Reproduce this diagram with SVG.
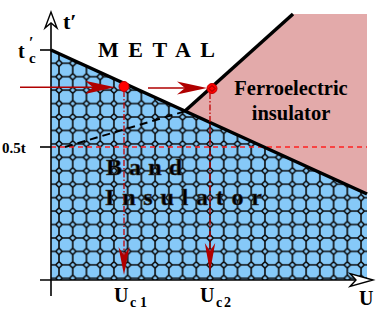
<svg xmlns="http://www.w3.org/2000/svg" width="382" height="309" viewBox="0 0 382 309">
<style>
.lbl{font-family:"Liberation Serif","Times New Roman",serif;font-weight:bold;fill:#000}
.bnd{stroke:#000;stroke-width:3.5;fill:none;stroke-linecap:butt}
.ax{stroke:#000;stroke-width:1.6;fill:none}
.axh{fill:#fff;stroke:#000;stroke-width:1.4;stroke-linejoin:miter}
.rarr{stroke:#B00000;stroke-width:1.5;fill:none}
.rhead{fill:#B00000;stroke:none}
.vdash{stroke:#C00000;stroke-width:1.3;fill:none;stroke-dasharray:6 2 1.5 2}
.dot{fill:#FF0000;stroke:#C00000;stroke-width:1}
</style>
<defs>
<pattern id="oct" patternUnits="userSpaceOnUse" x="52.135" y="2.78" width="13.73" height="13.44">
<rect width="13.73" height="13.44" fill="#86C9F8"/>
<path d="M0 6.72H3.565M10.165 6.72H13.73M6.865 0V3.42M6.865 10.02V13.44M3.565 6.72L6.865 3.42L10.165 6.72L6.865 10.02Z" stroke="#0a0a0a" stroke-width="1.6" fill="none"/>
</pattern>
</defs>
<rect width="382" height="309" fill="#fff"/>
<g id="regions">
<polygon id="ferro-region" points="293,14 367,14 367,194 185,111" fill="#E3AAAA"/>
<polygon id="band-region" points="51,50 367,194 367,280 51,280" fill="url(#oct)"/>
</g>
<g id="connectors">
<line x1="51" y1="147" x2="367" y2="147" stroke="#FF2020" stroke-width="1.5" stroke-dasharray="5 4"/>
<line x1="65" y1="147" x2="186" y2="111" stroke="#000" stroke-width="2" stroke-dasharray="8 5"/>
<line class="bnd" x1="51" y1="50" x2="367" y2="194"/>
<line class="bnd" x1="185" y1="111" x2="293" y2="14"/>
<line class="ax" x1="40" y1="50" x2="51" y2="50"/>
<line class="ax" x1="40" y1="147" x2="51" y2="147"/>
<line class="ax" x1="51" y1="296" x2="51" y2="22"/>
<line class="ax" x1="40" y1="280" x2="362" y2="280"/>
<path class="axh" d="M51,12 L57,28 L51,23 L45,28 Z"/>
<path class="axh" d="M373,280 L350,273.5 L356,280 L350,286.5 Z"/>
<line class="rarr" x1="20" y1="87.3" x2="95" y2="87.3"/>
<path class="rhead" d="M115,87.3 L85,80.7 L93,87.3 L85,93.9 Z"/>
<line class="rarr" x1="148" y1="88" x2="188" y2="88"/>
<path class="rhead" d="M207,88 L177,81.4 L185,88 L177,94.6 Z"/>
<line class="vdash" x1="124" y1="91" x2="124" y2="256"/>
<path class="rhead" d="M124,275 L118.5,247 L124,255 L129.5,247 Z"/>
<line class="vdash" x1="210" y1="93" x2="210" y2="252"/>
<path class="rhead" d="M210,272 L204.8,243 L210,251 L215.2,243 Z"/>
</g>
<g id="points">
<circle class="dot" cx="124" cy="86.5" r="5"/>
<circle class="dot" cx="212" cy="88.5" r="5"/>
<path d="M209,88.5 L212,85.5 L215,88.5 L212,91.5 Z" fill="none" stroke="#8B0000" stroke-width="1"/>
</g>
<g id="labels">
<text class="lbl" x="63" y="29" font-size="22">t′</text>
<text class="lbl" x="18" y="58" font-size="20">t</text>
<text class="lbl" x="29" y="48" font-size="16">′</text>
<text class="lbl" x="29" y="63" font-size="15">c</text>
<text class="lbl" x="2" y="153" font-size="15">0.5t</text>
<text class="lbl" x="98" y="57" font-size="22" textLength="117" lengthAdjust="spacing">METAL</text>
<text class="lbl" x="291" y="95" font-size="20.5" text-anchor="middle">Ferroelectric</text>
<text class="lbl" x="291" y="120" font-size="20.5" text-anchor="middle">insulator</text>
<text class="lbl" x="106" y="175" font-size="24" textLength="76" lengthAdjust="spacing" stroke="#333" stroke-width="0.6">Band</text>
<text class="lbl" x="105" y="205" font-size="24" textLength="157" lengthAdjust="spacing" stroke="#333" stroke-width="0.6">Insulator</text>
<text class="lbl" x="114" y="302" font-size="20">U</text>
<text class="lbl" x="130" y="307" font-size="14" textLength="17" lengthAdjust="spacing">c1</text>
<text class="lbl" x="200" y="302" font-size="20">U</text>
<text class="lbl" x="216" y="307" font-size="14" textLength="15" lengthAdjust="spacing">c2</text>
<text class="lbl" x="359" y="305" font-size="20">U</text>
</g>
</svg>
